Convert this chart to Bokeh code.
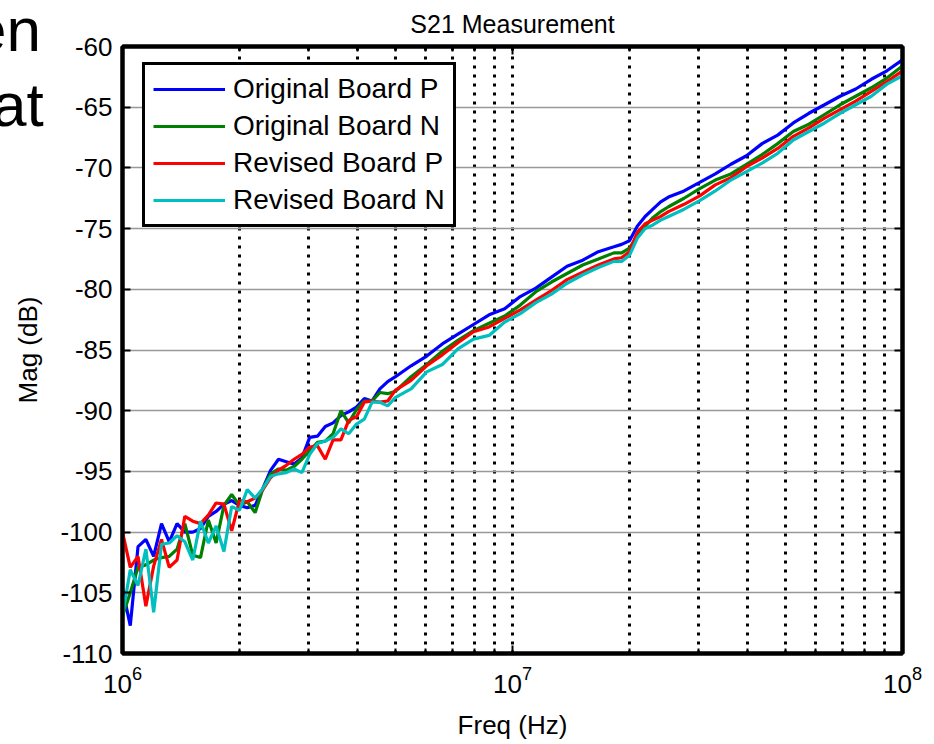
from bokeh.plotting import figure
from bokeh.layouts import column
from bokeh.models import (FixedTicker, LogAxis, LinearAxis, Legend, LegendItem, Div,
                          CustomJSTickFormatter, Range1d)
from bokeh.embed import file_html
from bokeh.resources import INLINE

# Sweep frequencies (MHz)
freq_mhz = [1.000, 1.047, 1.096, 1.148, 1.202, 1.259, 1.318, 1.380, 1.445, 1.514,
            1.585, 1.660, 1.738, 1.820, 1.905, 1.995, 2.089, 2.188, 2.291, 2.399,
            2.512, 2.630, 2.754, 2.884, 3.020, 3.162, 3.311, 3.467, 3.631, 3.802,
            3.981, 4.169, 4.365, 4.571, 4.786, 5.012,
            5.495, 6.026, 6.607, 7.244, 7.943, 8.710, 9.550, 10.47, 11.48, 12.59,
            13.80, 15.14, 16.60, 18.20,
            19.05, 19.95, 20.89, 21.88, 22.91, 23.99, 25.12,
            27.54, 30.20, 33.11, 36.31, 39.81, 43.65, 47.86, 52.48, 57.54, 63.10,
            69.18, 75.86, 83.18, 91.20, 100.0]

orig_p = [-104.7, -107.7, -101.2, -100.6, -102.0, -99.3, -100.8, -99.3, -100.0, -100.0,
          -99.7, -98.7, -98.3, -97.7, -97.4, -97.8, -98.0, -97.8, -96.4, -94.9,
          -94.0, -94.2, -94.4, -93.9, -92.2, -92.1, -91.3, -91.0, -90.4, -90.1,
          -89.7, -89.0, -89.2, -88.2, -87.6, -87.2,
          -86.3, -85.5, -84.5, -83.7, -82.9, -82.1, -81.6, -80.6, -79.9, -79.0,
          -78.1, -77.6, -76.9, -76.5,
          -76.3, -76.0, -74.8, -74.0, -73.4, -72.8, -72.4,
          -71.9, -71.2, -70.5, -69.7, -69.0, -68.0, -67.3, -66.3, -65.5, -64.8,
          -64.1, -63.5, -62.7, -62.0, -61.1]

orig_n = [-106.9, -105.0, -102.9, -102.7, -102.3, -102.1, -102.0, -101.4, -99.3, -101.9,
          -102.1, -99.0, -100.9, -97.8, -96.9, -97.8, -97.5, -98.4, -96.4, -95.2,
          -94.8, -94.9, -94.6, -94.0, -93.3, -92.6, -92.5, -91.9, -90.0, -91.0,
          -89.9, -89.2, -89.2, -88.5, -88.6, -88.4,
          -87.2, -86.2, -85.1, -84.2, -83.4, -82.8, -82.2, -81.3, -80.2, -79.4,
          -78.7, -78.0, -77.5, -77.0,
          -77.0, -76.6, -75.6, -74.8, -74.1, -73.6, -73.2,
          -72.5, -71.7, -71.0, -70.5, -69.7, -68.9, -68.0, -67.0, -66.4, -65.6,
          -64.8, -64.1, -63.4, -62.6, -61.6]

rev_p = [-100.0, -102.9, -102.0, -106.1, -102.8, -100.6, -102.9, -102.3, -98.7, -99.1,
         -99.3, -98.6, -97.6, -97.7, -99.9, -97.4, -97.5, -97.2, -96.5, -95.5,
         -94.9, -94.5, -94.0, -93.6, -93.0, -92.9, -94.0, -92.4, -92.4, -90.8,
         -90.5, -89.3, -89.2, -89.3, -89.2, -88.3,
         -87.5, -86.3, -85.4, -84.4, -83.5, -83.1, -82.4, -81.7, -80.9, -80.1,
         -79.2, -78.6, -78.0, -77.5,
         -77.4, -76.9, -75.3, -74.6, -74.3, -74.0, -73.6,
         -73.0, -72.3, -71.4, -70.8, -69.9, -69.2, -68.4, -67.4, -66.7, -65.9,
         -65.2, -64.5, -63.7, -62.9, -62.0]

rev_n = [-106.9, -103.1, -104.4, -101.4, -106.6, -101.0, -100.9, -100.3, -100.8, -102.3,
         -99.1, -100.9, -99.5, -101.6, -97.9, -98.2, -96.5, -97.2, -96.4, -95.4,
         -95.2, -95.1, -94.8, -95.1, -93.6, -92.7, -92.5, -92.2, -91.5, -91.9,
         -91.1, -90.7, -89.3, -89.3, -89.6, -88.9,
         -88.2, -86.8, -86.2, -84.9, -84.1, -83.8, -82.7, -82.0, -81.1, -80.4,
         -79.5, -78.8, -78.2, -77.7,
         -77.7, -77.2, -75.8, -75.0, -74.7, -74.3, -74.0,
         -73.4, -72.7, -71.9, -71.0, -70.3, -69.6, -68.8, -67.7, -67.0, -66.3,
         -65.5, -64.8, -64.1, -63.1, -62.4]

series_names = ["Original Board P", "Original Board N", "Revised Board P", "Revised Board N"]
series_vals = [orig_p, orig_n, rev_p, rev_n]
series_colors = ["#0000ff", "#008000", "#ff0000", "#00bfbf"]

x_major = [1e6, 1e7, 1e8]
x_minor = [m * d for d in (1e6, 1e7) for m in range(2, 10)]
y_ticks = list(range(-110, -55, 5))

FONT = "Liberation Sans"
freq_hz = [f * 1e6 for f in freq_mhz]

p = figure(width=934, height=744, x_axis_type="log",
           x_range=Range1d(1e6, 1e8), y_range=Range1d(-110, -60),
           output_backend="svg", toolbar_location=None,
           min_border_left=122, min_border_right=32, min_border_top=46, min_border_bottom=91,
           background_fill_color="white", border_fill_color="white",
           outline_line_color="black", outline_line_width=4)

xt = FixedTicker(ticks=x_major, minor_ticks=x_minor)
yt = FixedTicker(ticks=y_ticks)

# grids
p.xgrid[0].ticker = xt
p.xgrid.grid_line_color = "black"
p.xgrid.grid_line_width = 3
p.xgrid.grid_line_dash = "3 6"
p.xgrid.minor_grid_line_color = "black"
p.xgrid.minor_grid_line_width = 3
p.xgrid.minor_grid_line_dash = "3 6"
p.ygrid[0].ticker = yt
p.ygrid.grid_line_color = "#999999"
p.ygrid.grid_line_width = 1.5


def style_axis(ax):
    ax.axis_line_width = 4
    ax.axis_line_color = "black"
    ax.major_tick_in = 8
    ax.major_tick_out = 0
    ax.minor_tick_in = 5
    ax.minor_tick_out = 0
    ax.major_tick_line_width = 2
    ax.minor_tick_line_width = 2
    ax.major_label_text_font = FONT
    ax.major_label_text_font_size = "26px"
    ax.major_label_text_color = "black"
    ax.axis_label_text_font = FONT
    ax.axis_label_text_font_size = "26px"
    ax.axis_label_text_font_style = "normal"
    ax.axis_label_text_color = "black"


xa = p.xaxis[0]
xa.ticker = xt
style_axis(xa)
xa.major_label_standoff = 12
xa.axis_label = "Freq (Hz)"
xa.axis_label_standoff = 14

ya = p.yaxis[0]
ya.ticker = yt
ya.formatter = CustomJSTickFormatter(code="return tick.toFixed(0)")
style_axis(ya)
ya.major_label_standoff = 10
ya.axis_label = "Mag (dB)"
ya.axis_label_standoff = 14

blank = CustomJSTickFormatter(code="return ''")
top = LogAxis(ticker=xt, formatter=blank)
style_axis(top)
top.major_label_standoff = 0
p.add_layout(top, "above")
right = LinearAxis(ticker=yt, formatter=blank)
style_axis(right)
right.minor_tick_in = 0
right.major_label_standoff = 0
p.add_layout(right, "right")

p.title.text = "S21 Measurement"
p.title.align = "center"
p.title.vertical_align = "top"
p.title.text_font = FONT
p.title.text_font_size = "25px"
p.title.text_font_style = "normal"
p.title.text_color = "black"
p.title.standoff = 13

items = []
for name, vals, col in zip(series_names, series_vals, series_colors):
    r = p.line(freq_hz, vals, line_color=col, line_width=3.2)
    items.append(LegendItem(label=name, renderers=[r]))

legend = Legend(items=items, location=(20, 426),
                border_line_color="black", border_line_width=3, border_line_alpha=1,
                background_fill_color="white", background_fill_alpha=1,
                label_text_font=FONT, label_text_font_size="28px", label_text_color="black",
                glyph_width=72, glyph_height=28, label_height=28,
                label_standoff=8, spacing=5, padding=8)
p.add_layout(legend, "center")

# fragments of the slide text that lies behind the chart
slide_words = ["en", "at"]
slide_pos = [(-33, -6), (-13, 69)]
divs = []
for word, (lx, ty) in zip(slide_words, slide_pos):
    divs.append(Div(text=word, width=90, height=70,
                    styles={"position": "absolute", "left": f"{lx}px", "top": f"{ty}px",
                            "font-family": FONT, "font-size": "62px",
                            "line-height": "62px", "color": "black",
                            "z-index": "5", "white-space": "nowrap"}))

root = column(p, *divs, spacing=0)
open("out.html", "w").write(file_html(root, INLINE))
